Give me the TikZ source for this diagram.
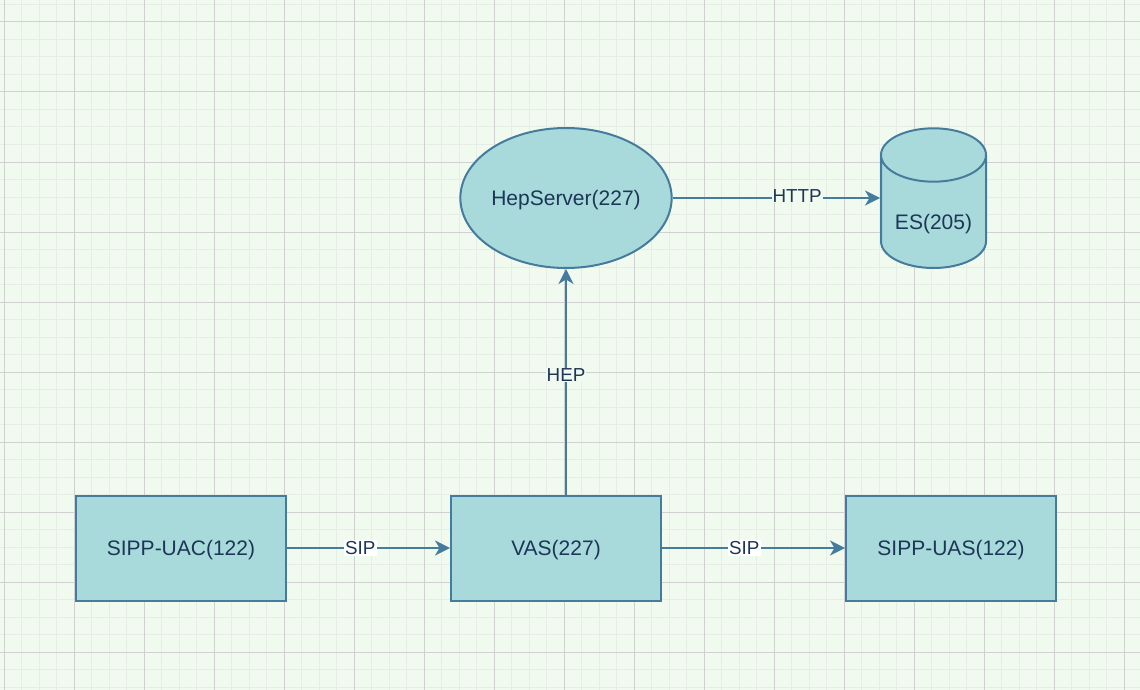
\documentclass[tikz,border=0pt]{standalone}
\usepackage{fontspec}
\setmainfont{Liberation Sans}
\usepackage{xcolor}
\usepackage{tikz}
\usetikzlibrary{shapes.geometric, arrows.meta, positioning}
\definecolor{pagebg}{HTML}{F1FAEE}
\definecolor{nodefill}{HTML}{A8DADC}
\definecolor{nodeline}{HTML}{457B9D}
\definecolor{nodetext}{HTML}{1D3557}
\definecolor{minorgrid}{HTML}{E6EDE4}
\definecolor{majorgrid}{HTML}{D0D0D0}
\tikzset{
  nodefont/.style={text=nodetext, font=\fontsize{21}{24}\selectfont, text height=15pt, text depth=0pt},
  box/.style={rectangle, draw=nodeline, fill=nodefill, line width=2pt, minimum width=210pt, minimum height=105pt, nodefont},
  server/.style={ellipse, draw=nodeline, fill=nodefill, line width=2pt, minimum width=210pt, minimum height=140pt, inner sep=0pt, nodefont},
  dbshape/.style={draw=nodeline, fill=nodefill, line width=2pt},
  dbbody/.style={rectangle, minimum width=105pt, minimum height=80pt, inner sep=0pt, nodefont},
  arrow/.style={-{Stealth[length=15pt, width=15pt, inset=4.5pt]}, draw=nodeline, line width=2pt},
  edgelabel/.style={fill=pagebg, inner sep=1pt, text=nodetext, font=\fontsize{18.8}{22}\selectfont},
  siplabel/.style={edgelabel, fill=white},
  minorline/.style={draw=minorgrid, line width=1pt},
  majorline/.style={draw=majorgrid, line width=1pt},
}
\begin{document}
\begin{tikzpicture}[x=1pt, y=-1pt]
    \fill[pagebg] (0,0) rectangle (1140,690);
    \useasboundingbox (0,0) rectangle (1140,690);
    \foreach \i in {0,...,64} \draw[minorline] ({4+17.5*\i},0) -- ({4+17.5*\i},690);
    \foreach \j in {0,...,39} \draw[minorline] (0,{4.5+17.5*\j}) -- (1140,{4.5+17.5*\j});
    \foreach \i in {0,...,16} \draw[majorline] ({4+70*\i},0) -- ({4+70*\i},690);
    \foreach \j in {0,...,9} \draw[majorline] (0,{22+70*\j}) -- (1140,{22+70*\j});

    \node[box] (uac) at (181,548) {SIPP-UAC(122)};
    \node[box, right=163pt of uac] (vas) {VAS(227)};
    \node[box, right=183pt of vas] (uas) {SIPP-UAS(122)};
    \node[server, above=225.5pt of vas, xshift=10pt] (hep) {HepServer(227)};
    \draw[dbshape] (881,155) -- (881,241.3)
        arc[start angle=180, end angle=360, x radius=52.5pt, y radius=26.7pt] -- (986,155)
        arc[start angle=0, end angle=180, x radius=52.5pt, y radius=26.7pt] -- cycle
        (881,155) arc[start angle=180, end angle=360, x radius=52.5pt, y radius=26.7pt]
        (933.5,222) node[dbbody] (es) {ES(205)};

    \draw[arrow] (uac) -- node[siplabel, pos=0.45] {SIP} (vas);
    \draw[arrow] (vas) -- node[siplabel, pos=0.45] {SIP} (uas);
    \draw[arrow] (hep.south |- vas.north) -- node[edgelabel, pos=0.53] {HEP} (hep);
    \draw[arrow] (hep) -- node[edgelabel, pos=0.6, yshift=2pt] {HTTP} (es.west |- hep);
  \end{tikzpicture}
\end{document}
